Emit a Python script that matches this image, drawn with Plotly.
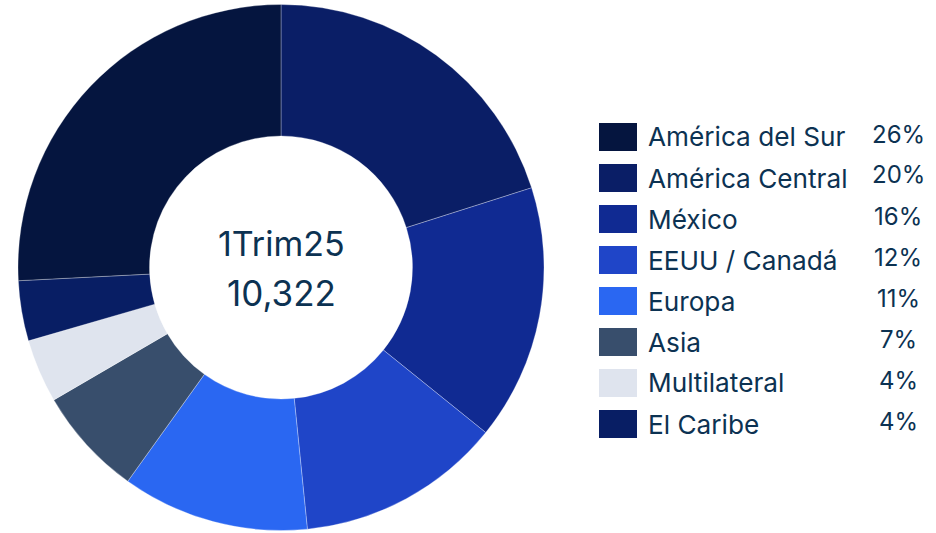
import plotly.graph_objects as go

regions_pie = ["América Central", "México", "EEUU / Canadá", "Europa", "Asia",
               "Multilateral", "El Caribe", "América del Sur"]
shares_pie = [20.1, 15.7, 12.6, 11.5, 6.7, 3.9, 3.7, 25.8]
colors_pie = ["#0a1e66", "#102a92", "#1f45c8", "#2a67f2", "#384e6c",
              "#dfe4ee", "#081e64", "#05153f"]

legend_labels = ["América del Sur", "América Central", "México", "EEUU / Canadá",
                 "Europa", "Asia", "Multilateral", "El Caribe"]
legend_pcts = ["26%", "20%", "16%", "12%", "11%", "7%", "4%", "4%"]
legend_colors = ["#05153f", "#0a1e66", "#102a92", "#1f45c8", "#2a67f2",
                 "#384e6c", "#dfe4ee", "#081e64"]

center_title = "1Trim25"
center_value = "10,322"

W, H = 936, 533
TXT = "#0c3252"
FONT = "Inter"


def px(x):
    return x / W


def py(y):
    return 1 - y / H


cx, cy0, R = 281, 267.5, 263
fig = go.Figure(go.Pie(
    labels=regions_pie, values=shares_pie,
    marker=dict(colors=colors_pie, line=dict(color="white", width=0.3)),
    hole=0.5, sort=False, direction="clockwise", rotation=0,
    textinfo="none", hoverinfo="label+percent", showlegend=False,
    domain=dict(x=[px(cx - R), px(cx + R)], y=[py(cy0 + R), py(cy0 - R)]),
))

shapes, annos = [], []
row0, step = 137, 41
for i, (lab, pct, col) in enumerate(zip(legend_labels, legend_pcts, legend_colors)):
    cy = row0 + i * step
    shapes.append(dict(type="rect", xref="paper", yref="paper",
                       x0=px(599), x1=px(637),
                       y0=py(cy + 14), y1=py(cy - 14),
                       fillcolor=col, line=dict(width=0)))
    annos.append(dict(x=px(646), y=py(cy), xref="paper", yref="paper",
                      text=lab, showarrow=False, xanchor="left", yanchor="middle",
                      font=dict(family=FONT, size=26.2, color=TXT)))
    annos.append(dict(x=px(898), y=py(cy - 3), xref="paper", yref="paper",
                      text=pct, showarrow=False, xanchor="center", yanchor="middle",
                      font=dict(family=FONT, size=24, color=TXT)))

annos.append(dict(x=px(281), y=py(243), xref="paper", yref="paper",
                  text=center_title, showarrow=False, xanchor="center", yanchor="middle",
                  font=dict(family=FONT, size=34, color=TXT)))
annos.append(dict(x=px(281), y=py(293), xref="paper", yref="paper",
                  text=center_value, showarrow=False, xanchor="center", yanchor="middle",
                  font=dict(family=FONT, size=35, color=TXT)))

fig.update_layout(width=W, height=H, margin=dict(l=0, r=0, t=0, b=0),
                  paper_bgcolor="white", plot_bgcolor="white",
                  shapes=shapes, annotations=annos)

fig.write_html("out.html", config={"displayModeBar": False},
               post_script="document.body.style.margin='0';document.body.style.overflow='hidden';")
